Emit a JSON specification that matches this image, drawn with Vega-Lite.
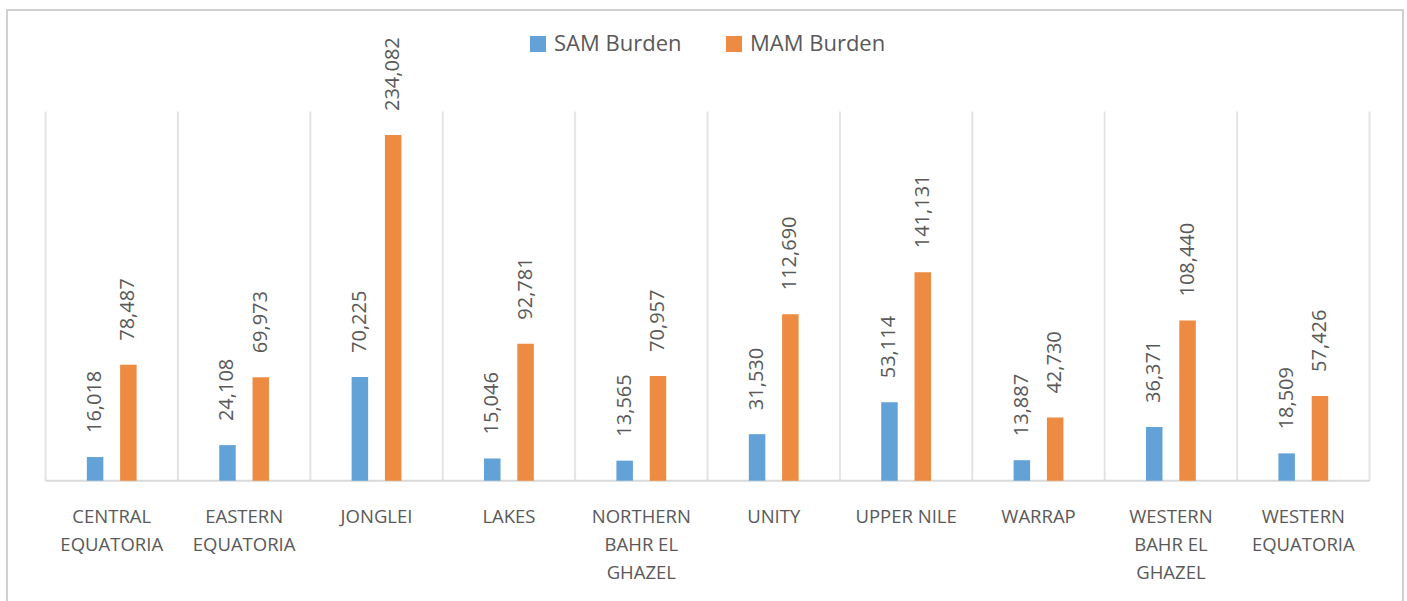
{
  "$schema": "https://vega.github.io/schema/vega-lite/v6.json",
  "width": 1396,
  "height": 600,
  "autosize": {"type": "none"},
  "padding": {"left": 7, "top": 10, "right": 4, "bottom": 0},
  "background": "white",
  "config": {"view": {"stroke": "#d0d0d0", "strokeWidth": 2}, "font": "Open Sans"},
  "data": {
    "values": [
      {"region": "CENTRAL EQUATORIA", "series": "SAM Burden", "value": 16018},
      {"region": "CENTRAL EQUATORIA", "series": "MAM Burden", "value": 78487},
      {"region": "EASTERN EQUATORIA", "series": "SAM Burden", "value": 24108},
      {"region": "EASTERN EQUATORIA", "series": "MAM Burden", "value": 69973},
      {"region": "JONGLEI", "series": "SAM Burden", "value": 70225},
      {"region": "JONGLEI", "series": "MAM Burden", "value": 234082},
      {"region": "LAKES", "series": "SAM Burden", "value": 15046},
      {"region": "LAKES", "series": "MAM Burden", "value": 92781},
      {"region": "NORTHERN BAHR EL GHAZEL", "series": "SAM Burden", "value": 13565},
      {"region": "NORTHERN BAHR EL GHAZEL", "series": "MAM Burden", "value": 70957},
      {"region": "UNITY", "series": "SAM Burden", "value": 31530},
      {"region": "UNITY", "series": "MAM Burden", "value": 112690},
      {"region": "UPPER NILE", "series": "SAM Burden", "value": 53114},
      {"region": "UPPER NILE", "series": "MAM Burden", "value": 141131},
      {"region": "WARRAP", "series": "SAM Burden", "value": 13887},
      {"region": "WARRAP", "series": "MAM Burden", "value": 42730},
      {"region": "WESTERN BAHR EL GHAZEL", "series": "SAM Burden", "value": 36371},
      {"region": "WESTERN BAHR EL GHAZEL", "series": "MAM Burden", "value": 108440},
      {"region": "WESTERN EQUATORIA", "series": "SAM Burden", "value": 18509},
      {"region": "WESTERN EQUATORIA", "series": "MAM Burden", "value": 57426}
    ]
  },
  "layer": [
    {
      "transform": [{"filter": "datum.series == 'SAM Burden'"}],
      "mark": {"type": "rule", "color": "#e4e4e4", "strokeWidth": 2},
      "encoding": {
        "x": {"field": "region", "type": "nominal", "sort": null, "bandPosition": 0, "title": null},
        "y": {"datum": 0, "type": "quantitative", "scale": {"domain": [-87555, 318730], "nice": false, "zero": false}, "axis": null},
        "y2": {"datum": 250000}
      }
    },
    {
      "transform": [{"filter": "datum.series == 'SAM Burden' && datum.region == 'WESTERN EQUATORIA'"}],
      "mark": {"type": "rule", "color": "#e4e4e4", "strokeWidth": 2},
      "encoding": {
        "x": {"field": "region", "type": "nominal", "sort": null, "bandPosition": 1, "title": null},
        "y": {"datum": 0, "type": "quantitative", "axis": null},
        "y2": {"datum": 250000}
      }
    },
    {
      "transform": [{"filter": "datum.series == 'SAM Burden'"}],
      "mark": {"type": "bar", "fill": "transparent", "stroke": "#d9d9d9", "strokeWidth": 2},
      "encoding": {
        "x": {"field": "region", "type": "nominal", "sort": null, "title": null},
        "y": {"datum": 0, "type": "quantitative", "axis": null},
        "y2": {"datum": 0}
      }
    },
    {
      "mark": {"type": "bar", "width": 16.5},
      "encoding": {
        "x": {
          "field": "region", "type": "nominal", "sort": null,
          "scale": {"paddingInner": 0, "paddingOuter": 0.272, "align": 0.535},
          "axis": {
            "title": null, "orient": "bottom", "offset": -129.3, "domain": false, "ticks": false, "grid": false,
            "bandPosition": 0.5,
            "labelPadding": 27, "labelFontSize": 18.5, "labelFont": "Open Sans", "labelColor": "#595959",
            "labelLineHeight": 28, "labelAngle": 0, "labelAlign": "center", "labelOverlap": false, "labelBound": false, "labelFlush": false,
            "labelLimit": 0, "labelBaseline": "top",
            "labelExpr": "datum.value == 'UPPER NILE' ? datum.value : (indexof(datum.value, 'BAHR EL') >= 0 ? [split(datum.value, ' ')[0], 'BAHR EL', 'GHAZEL'] : split(datum.value, ' '))"
          }
        },
        "xOffset": {"field": "series", "type": "nominal", "scale": {"domain": ["SAM Burden", "MAM Burden"], "paddingInner": 0.024, "paddingOuter": 1}},
        "y": {"field": "value", "type": "quantitative", "stack": null, "axis": null},
        "color": {
          "field": "series", "type": "nominal",
          "scale": {"domain": ["SAM Burden", "MAM Burden"], "range": ["#62a2d7", "#ec8b41"]},
          "legend": {
            "orient": "none", "legendX": 520, "legendY": 23, "direction": "horizontal", "title": null,
            "symbolType": "square", "symbolSize": 256, "symbolStrokeWidth": 0, "symbolOpacity": 1,
            "labelFontSize": 22, "labelFont": "Open Sans", "labelColor": "#595959", "labelOffset": 5,
            "columnPadding": 41, "padding": 0
          }
        }
      }
    },
    {
      "mark": {"type": "text", "angle": 270, "align": "left", "baseline": "middle", "dx": 24, "fontSize": 20, "font": "Open Sans", "color": "#595959"},
      "encoding": {
        "x": {"field": "region", "type": "nominal", "sort": null, "title": null},
        "xOffset": {"field": "series", "type": "nominal"},
        "y": {"field": "value", "type": "quantitative", "axis": null},
        "text": {"field": "value", "type": "quantitative", "format": ","}
      }
    }
  ]
}
